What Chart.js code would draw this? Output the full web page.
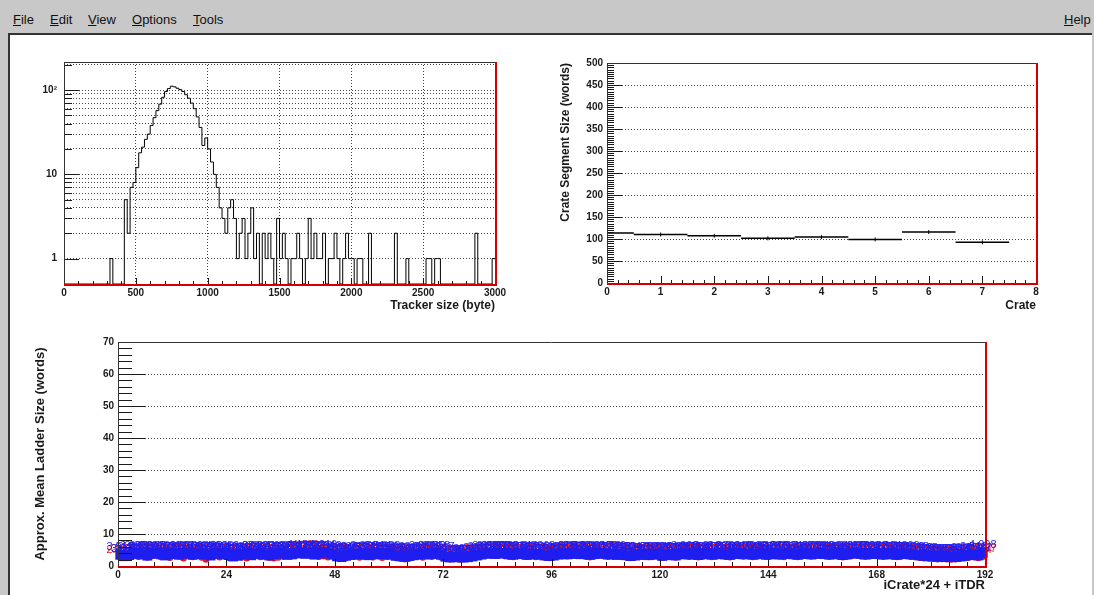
<!DOCTYPE html>
<html>
<head>
<meta charset="utf-8">
<script src="https://cdn.jsdelivr.net/npm/chart.js@4.4.0/dist/chart.umd.min.js"></script>
<style>
body{margin:0;width:1094px;height:595px;overflow:hidden;background:#c8c8c8;position:relative;font-family:"Liberation Sans",Arial,sans-serif}
#menu span{position:absolute;top:12px;font-size:13px;color:#111}
#pad{position:absolute;left:8px;top:33px;width:1084px;height:562px;background:#fff;border-left:2px solid #333;border-top:2px solid #333;box-sizing:border-box}
canvas{position:absolute}
</style>
</head>
<body>
<div id="menu">
  <span style="left:13px"><u>F</u>ile</span>
  <span style="left:50px"><u>E</u>dit</span>
  <span style="left:88px"><u>V</u>iew</span>
  <span style="left:132px"><u>O</u>ptions</span>
  <span style="left:193px"><u>T</u>ools</span>
  <span style="left:1064px"><u>H</u>elp</span>
</div>
<div id="pad"></div>
<canvas id="tracker" width="500" height="275" style="left:10px;top:40px"></canvas>
<canvas id="crate" width="570" height="275" style="left:520px;top:40px"></canvas>
<canvas id="ladder" width="1080" height="275" style="left:10px;top:320px"></canvas>
<script>
const FONT = '"Liberation Sans", Arial, sans-serif'
const INK = '#1a1a1a'

// tracker size histogram, 20 byte bins from 0 to 3000
const trackerBinWidth = 20
const trackerCounts = [
  0,0,0,0,0,0,0,0,0,0,
  0,0,0,0,0,0,1,0,0,0,
  0,5,2,7,8,12,18,21,26,30,
  38,47,57,68,82,96,104,111,109,105,
  101,96,88,80,70,60,48,36,22,27,
  20,14,10,7,4,3,2,4,5,3,
  1,2,3,1,2,4,1,2,0,2,
  1,2,1,0,3,1,2,1,0,1,
  1,2,1,0,1,3,1,2,1,1,
  2,0,1,1,2,1,0,1,2,1,
  1,0,1,1,0,0,2,0,0,0,
  0,0,0,0,0,2,0,0,0,1,
  0,0,0,0,0,0,1,1,0,1,
  1,0,0,0,0,0,0,0,0,0,
  0,0,0,2,0,0,0,0,0,1
]
const trackerYMin = 0.5
const trackerYMax = 215
const trackerYMajor = [1, 10, 100]
const trackerYMinor = [2,3,4,5,6,7,8,9,20,30,40,50,60,70,80,90,200]
const trackerYLabels = {1: '1', 10: '10', 100: '10\u00B2'}

// crate segment size (words)
const crates = [0, 1, 2, 3, 4, 5, 6, 7]
const crateSize = [113.6, 110.2, 107.3, 101.5, 104.4, 99.0, 115.8, 92.4]

// approx. mean ladder size per iCrate*24 + iTDR
const tdrBlue = [
  3.513,3.076,3.412,3.805,3.932,3.587,3.241,3.878,3.926,3.663,3.302,3.756,3.971,3.529,3.835,4.014,3.488,3.717,3.943,3.592,3.275,3.821,4.005,3.638,
  3.412,2.983,3.197,3.616,3.834,3.358,3.763,3.927,3.515,3.289,3.702,4.033,3.847,3.471,3.626,3.918,4.134,3.793,4.007,3.552,3.878,4.216,3.942,3.689,
  3.026,2.784,3.205,3.437,3.712,3.593,3.858,3.372,3.726,3.914,3.651,3.838,3.503,3.187,3.032,2.846,3.118,3.357,3.583,3.831,3.629,3.762,3.958,3.517,
  2.913,2.668,2.742,2.815,2.637,2.761,2.992,3.286,3.572,3.815,3.987,3.761,3.873,4.026,3.652,3.518,3.834,3.707,3.469,3.623,3.786,3.541,3.298,3.125,
  3.271,3.552,3.818,3.635,3.762,3.941,3.693,3.826,3.487,3.712,4.017,3.806,3.583,3.779,3.448,3.632,3.365,3.118,3.296,3.473,3.612,3.389,3.537,3.724,
  3.167,3.383,3.519,3.282,3.635,3.808,3.561,3.753,3.427,3.649,3.812,3.531,3.706,3.878,3.615,3.462,3.737,3.916,3.654,3.793,3.525,3.681,3.842,3.508,
  3.639,3.815,3.582,3.767,3.934,3.658,3.493,3.726,3.871,3.605,3.784,3.962,3.717,3.548,3.823,3.661,3.434,3.602,3.858,4.018,3.772,3.591,3.736,3.927,
  3.713,3.557,3.824,3.638,3.481,3.706,3.863,3.612,3.545,3.318,3.185,3.076,2.993,2.882,2.954,2.827,2.764,2.843,3.027,3.165,3.409,3.518,3.287,4.098
]
const tdrRed = [
  2.814,3.127,2.653,3.342,2.976,3.518,2.731,3.209,3.462,2.887,3.105,2.694,3.376,3.021,2.538,3.284,2.912,3.437,2.765,2.143,3.058,3.312,2.846,3.193,
  2.672,3.015,3.284,2.791,2.487,3.136,3.367,2.926,3.218,2.635,2.518,2.764,3.047,3.326,3.592,3.418,3.873,4.126,3.705,3.284,2.956,3.137,2.815,3.062,
  2.893,3.214,2.567,2.932,3.157,2.719,3.048,3.284,2.836,3.127,2.683,2.945,3.236,2.618,2.387,2.214,2.456,2.873,3.092,2.765,3.146,2.937,3.265,2.814,
  2.356,2.183,2.274,2.127,2.215,2.348,2.592,2.936,3.174,3.425,3.618,3.283,3.517,3.364,3.072,2.856,3.198,3.427,2.945,3.113,2.876,3.054,2.738,2.617,
  2.836,3.092,3.358,3.127,3.614,3.876,3.247,3.018,2.784,3.152,3.437,3.215,2.976,3.138,3.726,3.462,2.814,2.567,2.738,2.915,3.084,2.856,3.017,3.162,
  2.648,2.917,3.083,2.764,3.126,3.295,2.983,3.147,2.836,3.058,3.217,2.914,3.076,3.241,2.997,2.838,3.116,3.285,3.046,3.173,2.887,3.032,3.264,2.945,
  3.127,3.846,3.058,2.917,3.342,3.086,2.853,3.126,3.295,3.017,3.172,3.428,3.386,2.964,3.238,3.075,2.846,3.018,3.265,3.452,3.148,2.973,3.134,3.312,
  3.176,2.934,3.258,3.037,2.864,3.092,3.247,2.985,2.916,2.683,2.537,2.428,2.316,2.215,2.286,2.164,2.105,2.187,2.342,2.476,2.718,2.853,2.614,2.937
]

const range = (a, b, step) => { const out = []; for (let v = a; v <= b + 1e-9; v += step) out.push(+v.toFixed(6)); return out }
const plain = v => String(v)

// ROOT style frame: ticks drawn inside, red right/bottom edge
const rootFrame = {
  id: 'rootFrame',
  afterDraw(chart, args, o) {
    const {ctx, chartArea: a} = chart
    const sx = chart.scales.x, sy = chart.scales.y
    const line = (x1, y1, x2, y2) => { ctx.beginPath(); ctx.moveTo(x1, y1); ctx.lineTo(x2, y2); ctx.stroke() }
    ctx.save()
    ctx.strokeStyle = INK
    ctx.lineWidth = 1
    o.yMajor.forEach(v => { const y = Math.round(sy.getPixelForValue(v)) + 0.5; line(a.left, y, a.left + o.yLen[0], y) })
    o.yMinor.forEach(v => { const y = Math.round(sy.getPixelForValue(v)) + 0.5; line(a.left, y, a.left + o.yLen[1], y) })
    o.xMajor.forEach(v => { const x = Math.round(sx.getPixelForValue(v)) + 0.5; line(x, a.bottom, x, a.bottom - o.xLen[0]) })
    o.xMinor.forEach(v => { const x = Math.round(sx.getPixelForValue(v)) + 0.5; line(x, a.bottom, x, a.bottom - o.xLen[1]) })
    ctx.strokeStyle = '#333'
    line(a.left + 0.5, a.bottom, a.left + 0.5, a.top)
    line(a.left, a.top + 0.5, a.right, a.top + 0.5)
    ctx.strokeStyle = '#d40000'
    ctx.lineWidth = 2
    line(a.left, a.bottom + 1, a.right + 2, a.bottom + 1)
    line(a.right + 1, a.top, a.right + 1, a.bottom + 2)
    ctx.restore()
  }
}

// bin content written above every point, like the TEXT draw option
const binText = {
  id: 'binText',
  afterDatasetDraw(chart, args, o) {
    if (!o.show) return
    const ctx = chart.ctx
    const ds = chart.data.datasets[args.index]
    ctx.save()
    ctx.font = '11px ' + FONT
    ctx.textAlign = 'center'
    ctx.textBaseline = 'bottom'
    ctx.fillStyle = ds.borderColor
    args.meta.data.forEach((pt, j) => ctx.fillText(String(ds.data[j].y), pt.x, pt.y - 2))
    ctx.restore()
  }
}

Chart.register(rootFrame, binText)

const tickFont = {family: FONT, size: 10, weight: 'bold'}
const titleFont = {family: FONT, size: 12, weight: 'bold'}
const dotted = {display: false, dash: [1, 2]}
const baseOpts = (pad) => ({
  responsive: false,
  animation: false,
  events: [],
  layout: {padding: pad},
  plugins: {legend: {display: false}, tooltip: {enabled: false}}
})

// ---- tracker size (empty bins sit on the frame floor of the log axis)
const trackerPoints = trackerCounts.map((c, i) => ({x: i * trackerBinWidth, y: c > 0 ? c : trackerYMin}))
trackerPoints.push({x: trackerCounts.length * trackerBinWidth, y: trackerPoints[trackerPoints.length - 1].y})

const cfg1 = baseOpts({top: 22, right: 15, left: 0, bottom: 0})
cfg1.plugins.rootFrame = {yMajor: trackerYMajor, yMinor: trackerYMinor, yLen: [15, 8],
  xMajor: range(0, 3000, 500), xMinor: range(0, 3000, 100), xLen: [6, 3]}
cfg1.plugins.binText = {show: false}
cfg1.scales = {
  x: {type: 'linear', min: 0, max: 3000,
    afterFit: s => { s.height = 31 },
    ticks: {stepSize: 500, font: tickFont, color: INK, padding: 3, maxRotation: 0, callback: plain},
    grid: {color: '#444', drawTicks: false}, border: dotted,
    title: {display: true, text: 'Tracker size (byte)', align: 'end', font: titleFont, color: INK, padding: {top: 0, bottom: 2}}},
  y: {type: 'logarithmic', min: trackerYMin, max: trackerYMax,
    afterFit: s => { s.width = 54 },
    afterBuildTicks: s => { s.ticks = trackerYMajor.concat(trackerYMinor).sort((a, b) => a - b).map(v => ({value: v})) },
    ticks: {autoSkip: false, font: tickFont, color: INK, padding: 7, callback: v => trackerYLabels[v] || ''},
    grid: {color: '#444', drawTicks: false}, border: dotted}
}
new Chart(document.getElementById('tracker'), {
  type: 'line',
  data: {datasets: [{data: trackerPoints, borderColor: '#000', borderWidth: 1, pointRadius: 0, stepped: 'before', fill: false}]},
  options: cfg1
})

// ---- crate segment size
const crateSteps = []
crates.forEach((c, i) => { crateSteps.push({x: c - 0.5, y: crateSize[i]}, {x: c + 0.5, y: crateSize[i]}, {x: c + 0.5, y: null}) })
const crateCentres = crates.map((c, i) => ({x: c, y: crateSize[i]}))

const cfg2 = baseOpts({top: 23, right: 54, left: 34, bottom: 0})
cfg2.plugins.rootFrame = {yMajor: range(0, 500, 50), yMinor: range(0, 500, 5), yLen: [15, 7],
  xMajor: range(0, 8, 1), xMinor: range(0, 8, 0.2), xLen: [7, 3]}
cfg2.plugins.binText = {show: false}
cfg2.scales = {
  x: {type: 'linear', min: 0, max: 8,
    afterFit: s => { s.height = 32 },
    ticks: {stepSize: 1, font: tickFont, color: INK, padding: 3, maxRotation: 0},
    grid: {display: false, drawTicks: false}, border: {display: false},
    title: {display: true, text: 'Crate', align: 'end', font: titleFont, color: INK, padding: {top: 0, bottom: 2}}},
  y: {type: 'linear', min: 0, max: 500,
    afterFit: s => { s.width = 53 },
    ticks: {stepSize: 50, font: tickFont, color: INK, padding: 4},
    grid: {color: '#444', drawTicks: false}, border: dotted,
    title: {display: true, text: 'Crate Segment Size (words)', align: 'end', font: titleFont, color: INK, padding: {top: 4, bottom: 0}}}
}
new Chart(document.getElementById('crate'), {
  type: 'line',
  data: {datasets: [
    {data: crateSteps, borderColor: '#000', borderWidth: 1.5, pointRadius: 0, spanGaps: false},
    {data: crateCentres, showLine: false, borderColor: '#000', borderWidth: 1, pointStyle: 'line', rotation: 90, pointRadius: 2}
  ]},
  options: cfg2
})

// ---- approx. mean ladder size
const blueSeries = tdrBlue.map((v, i) => ({x: i + 0.5, y: v}))
const redSeries = tdrRed.map((v, i) => ({x: i + 0.5, y: v}))

const cfg3 = baseOpts({top: 22, right: 105, left: 16, bottom: 0})
cfg3.plugins.rootFrame = {yMajor: range(0, 70, 10), yMinor: range(0, 70, 2), yLen: [27, 14],
  xMajor: range(0, 192, 24), xMinor: range(0, 192, 4), xLen: [7, 4]}
cfg3.plugins.binText = {show: true}
cfg3.scales = {
  x: {type: 'linear', min: 0, max: 192,
    afterFit: s => { s.height = 29 },
    ticks: {stepSize: 24, font: tickFont, color: INK, padding: 3, maxRotation: 0},
    grid: {display: false, drawTicks: false}, border: {display: false},
    title: {display: true, text: 'iCrate*24 + iTDR', align: 'end', font: {family: FONT, size: 13, weight: 'bold'}, color: INK, padding: {top: 0, bottom: 2}}},
  y: {type: 'linear', min: 0, max: 70,
    afterFit: s => { s.width = 92 },
    ticks: {stepSize: 10, font: tickFont, color: INK, padding: 4},
    grid: {color: '#444', drawTicks: false}, border: dotted,
    title: {display: true, text: 'Approx. Mean Ladder Size (words)', align: 'center', font: {family: FONT, size: 13, weight: 'bold'}, color: INK, padding: {top: 7, bottom: 0}}}
}
new Chart(document.getElementById('ladder'), {
  type: 'scatter',
  data: {datasets: [
    {data: blueSeries, borderColor: 'rgb(30,30,240)', backgroundColor: 'rgb(30,30,240)', pointStyle: 'rect', pointRadius: 7, borderWidth: 0},
    {data: redSeries, borderColor: 'rgb(240,20,20)', backgroundColor: 'rgb(240,20,20)', pointStyle: 'circle', pointRadius: 3.5, borderWidth: 0}
  ]},
  options: Object.assign(cfg3, {clip: false})
})
</script>
</body>
</html>
